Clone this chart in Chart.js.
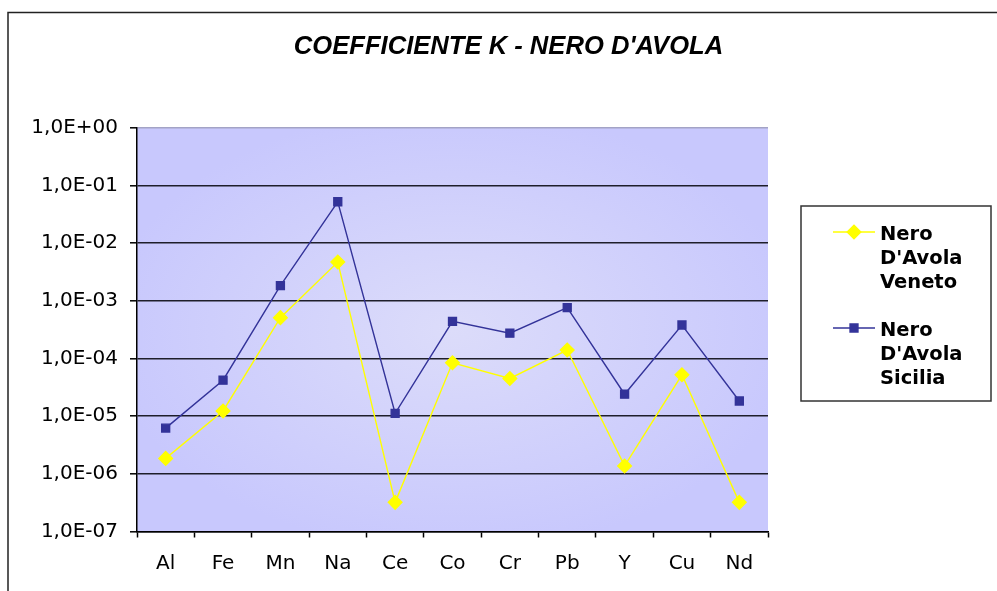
<!DOCTYPE html>
<html>
<head>
<meta charset="utf-8">
<title>Coefficiente K - Nero d'Avola</title>
<script src="https://cdn.jsdelivr.net/npm/chart.js@4.4.1/dist/chart.umd.min.js"></script>
<style>
	html, body { margin: 0; padding: 0; background: #fff; overflow: hidden; }
	canvas { display: block; }
</style>
</head>
<body>
<canvas id="chart" width="997" height="591"></canvas>
<script>
const categories = ['Al', 'Fe', 'Mn', 'Na', 'Ce', 'Co', 'Cr', 'Pb', 'Y', 'Cu', 'Nd'];
const venetoValues = [1.85e-6, 1.23e-5, 5.1e-4, 4.7e-3, 3.2e-7, 8.4e-5, 4.5e-5, 1.4e-4, 1.37e-6, 5.2e-5, 3.2e-7];
const siciliaValues = [6.2e-6, 4.2e-5, 1.83e-3, 5.2e-2, 1.12e-5, 4.4e-4, 2.74e-4, 7.6e-4, 2.4e-5, 3.8e-4, 1.83e-5];
const yTickExponents = [0, -1, -2, -3, -4, -5, -6, -7];
const legendLabels = [['Nero', "D'Avola", 'Veneto'], ['Nero', "D'Avola", 'Sicilia']];

const tickFont = { family: '"DejaVu Sans", Verdana, sans-serif', size: 20 };

function formatSci(v) {
	const e = Math.round(Math.log10(v));
	return '1,0E' + (e < 0 ? '-' : '+') + String(Math.abs(e)).padStart(2, '0');
}

// white page, outer frame and the lavender plot area
const backdrop = {
	id: 'backdrop',
	beforeDraw(chart) {
		const { ctx, chartArea: a } = chart;
		ctx.save();
		ctx.fillStyle = '#fff';
		ctx.fillRect(0, 0, chart.width, chart.height);
		ctx.strokeStyle = '#222';
		ctx.lineWidth = 1.5;
		ctx.beginPath();
		ctx.moveTo(8, chart.height);
		ctx.lineTo(8, 12.5);
		ctx.lineTo(chart.width, 12.5);
		ctx.stroke();

		const cx = (a.left + a.right) / 2, cy = (a.top + a.bottom) / 2;
		const rx = (a.right - a.left) / 2, ry = (a.bottom - a.top) / 2;
		ctx.translate(cx, cy);
		ctx.scale(1, ry / rx);
		const g = ctx.createRadialGradient(0, 0, 0, 0, 0, rx * 1.1);
		g.addColorStop(0, '#dcdcfa');
		g.addColorStop(1, '#c8c8fd');
		ctx.fillStyle = g;
		ctx.fillRect(-rx, -rx, rx * 2, rx * 2);
		ctx.restore();
	}
};

// boxed legend with line + marker swatches and wrapped labels
const boxLegend = {
	id: 'boxLegend',
	afterDraw(chart) {
		const { ctx } = chart;
		const left = 801, top = 206, right = 991, bottom = 401;
		ctx.save();
		ctx.strokeStyle = '#333';
		ctx.lineWidth = 1.5;
		ctx.strokeRect(left, top, right - left, bottom - top);

		ctx.font = 'bold 19.5px "DejaVu Sans", Verdana, sans-serif';
		ctx.textBaseline = 'alphabetic';
		chart.data.datasets.forEach((ds, i) => {
			const y = 232 + i * 96;
			ctx.strokeStyle = ds.borderColor;
			ctx.lineWidth = ds.borderWidth;
			ctx.beginPath();
			ctx.moveTo(833, y);
			ctx.lineTo(875, y);
			ctx.stroke();
			ctx.fillStyle = ds.pointBackgroundColor;
			ctx.strokeStyle = ds.pointBorderColor;
			Chart.helpers.drawPoint(ctx, {
				pointStyle: ds.pointStyle,
				radius: ds.pointRadius,
				rotation: 0,
				borderWidth: 1
			}, 854, y);
			ctx.fillStyle = '#000';
			legendLabels[i].forEach((line, j) => {
				ctx.fillText(line, 880, y + 7.5 + j * 24);
			});
		});
		ctx.restore();
	}
};

new Chart(document.getElementById('chart'), {
	type: 'line',
	data: {
		labels: categories,
		datasets: [
			{
				label: legendLabels[0].join(' '),
				data: venetoValues,
				borderColor: '#ffff00',
				borderWidth: 1.4,
				pointStyle: 'rectRot',
				pointRadius: 6.8,
				pointBackgroundColor: '#ffff00',
				pointBorderColor: '#ffff00',
				tension: 0
			},
			{
				label: legendLabels[1].join(' '),
				data: siciliaValues,
				borderColor: '#333399',
				borderWidth: 1.4,
				pointStyle: 'rect',
				pointRadius: 5.6,
				pointBackgroundColor: '#333399',
				pointBorderColor: '#333399',
				tension: 0
			}
		]
	},
	options: {
		responsive: false,
		animation: false,
		devicePixelRatio: 1,
		layout: { padding: { left: 20, right: 0, top: 0, bottom: 17.5 } },
		plugins: {
			legend: { display: false },
			tooltip: { enabled: false },
			title: {
				display: true,
				text: "COEFFICIENTE K - NERO D'AVOLA",
				color: '#000',
				font: { family: '"Liberation Sans", Arial, sans-serif', size: 25.6, weight: 'bold', style: 'italic' },
				padding: { top: 32, bottom: 65 }
			}
		},
		scales: {
			x: {
				offset: true,
				grid: {
					offset: true,
					drawOnChartArea: false,
					drawTicks: true,
					tickLength: 6,
					tickColor: '#000',
					tickWidth: 1.5
				},
				border: { color: '#000', width: 1.5 },
				ticks: { color: '#000', font: tickFont, padding: 14, maxRotation: 0 },
				afterFit(s) { s.height = 42; }
			},
			y: {
				type: 'logarithmic',
				min: 1e-7,
				max: 1,
				afterBuildTicks(s) {
					s.ticks = yTickExponents.map(e => ({ value: Math.pow(10, e), major: true }));
				},
				grid: {
					color: c => (c.tick && c.tick.value === 1 ? '#a3a3c6' : '#1e1e2a'),
					lineWidth: 1.6,
					drawTicks: true,
					tickLength: 7,
					tickColor: '#000',
					tickWidth: 1.5
				},
				border: { color: '#000', width: 1.5 },
				ticks: { color: '#000', font: tickFont, padding: 12, callback: v => formatSci(v) },
				afterFit(s) { s.width = 117; }
			},
			spacer: {
				position: 'right',
				type: 'linear',
				display: true,
				grid: { display: false },
				border: { display: false },
				ticks: { display: false },
				afterFit(s) { s.width = 229; }
			}
		}
	},
	plugins: [backdrop, boxLegend]
});
</script>
</body>
</html>
